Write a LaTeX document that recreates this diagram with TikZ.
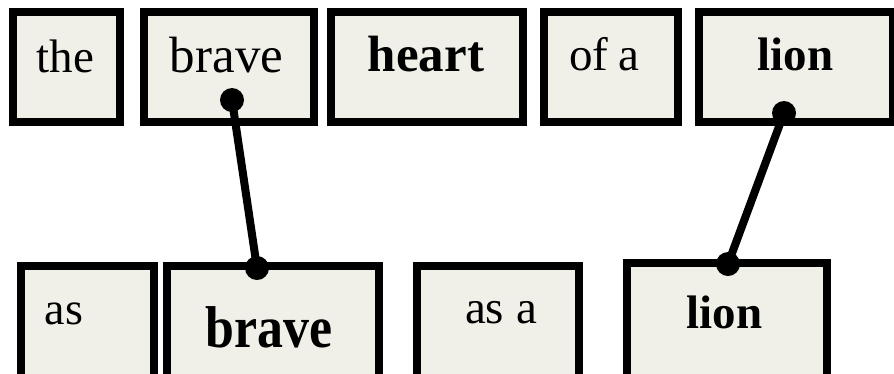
\documentclass[tikz,border=0pt]{standalone}
\usepackage{fontspec}
\setmainfont{Liberation Serif}
\definecolor{boxfill}{RGB}{240,240,232}
\begin{document}
\begin{tikzpicture}[x=1pt,y=-1pt,
  wbox/.style={draw=black,line width=8pt,fill=boxfill,inner sep=0pt,rectangle},
  wtxt/.style={anchor=base,inner sep=0pt},
  conn/.style={line width=8pt,black},
  dotmark/.style={fill=black}]
\useasboundingbox (0,0) rectangle (894,373);
\begin{scope}
\clip (0,0) rectangle (894,373);
% top row
\node[wbox,minimum width=107pt,minimum height=110pt] (b1) at (66.5,67) {};
\node[wbox,minimum width=170pt,minimum height=110pt] (b2) at (229,67) {};
\node[wbox,minimum width=192pt,minimum height=110pt] (b3) at (427,67) {};
\node[wbox,minimum width=134pt,minimum height=110pt] (b4) at (611,67) {};
\node[wbox,minimum width=194pt,minimum height=110pt] (b5) at (796,67) {};
% bottom row
\node[wbox,minimum width=133pt,minimum height=112pt] (c1) at (87.5,322) {};
\node[wbox,minimum width=212pt,minimum height=112pt] (c2) at (273,322) {};
\node[wbox,minimum width=162pt,minimum height=112pt] (c3) at (498,322) {};
\node[wbox,minimum width=200pt,minimum height=115pt] (c4) at (727,320.5) {};
\end{scope}
% texts
\node[wtxt] (t1) at (65.5,72) {\fontsize{47}{47}\selectfont the};
\node[wtxt] (t2) at (226.5,72) {\fontsize{51}{51}\selectfont brave};
\node[wtxt] (t3) at (426,71) {\fontsize{51}{51}\selectfont\bfseries heart};
\node[wtxt] (t4) at (604,70) {\fontsize{47}{47}\selectfont of\kern-2pt\ a};
\node[wtxt] (t5) at (795.5,70) {\fontsize{47}{47}\selectfont\bfseries lion};
\node[wtxt] (s1) at (64,324) {\fontsize{46}{46}\selectfont as};
\node[wtxt] (s2) at (269,347) {\scalebox{0.88}[1]{\fontsize{59}{59}\selectfont\bfseries brave}};
\node[wtxt] (s3) at (501,323) {\fontsize{47}{47}\selectfont as a};
\node[wtxt] (s4) at (724.5,328) {\fontsize{47}{47}\selectfont\bfseries lion};
% connectors
\coordinate (d1) at (232,100);
\coordinate (d2) at (257,268);
\coordinate (d3) at (784,113);
\coordinate (d4) at (728,264);
\draw[conn] (d1) -- (d2);
\draw[conn] (d3) -- (d4);
\fill[dotmark] (d1) circle[radius=12pt];
\fill[dotmark] (d2) circle[radius=12pt];
\fill[dotmark] (d3) circle[radius=12pt];
\fill[dotmark] (d4) circle[radius=12pt];
\end{tikzpicture}
\end{document}
